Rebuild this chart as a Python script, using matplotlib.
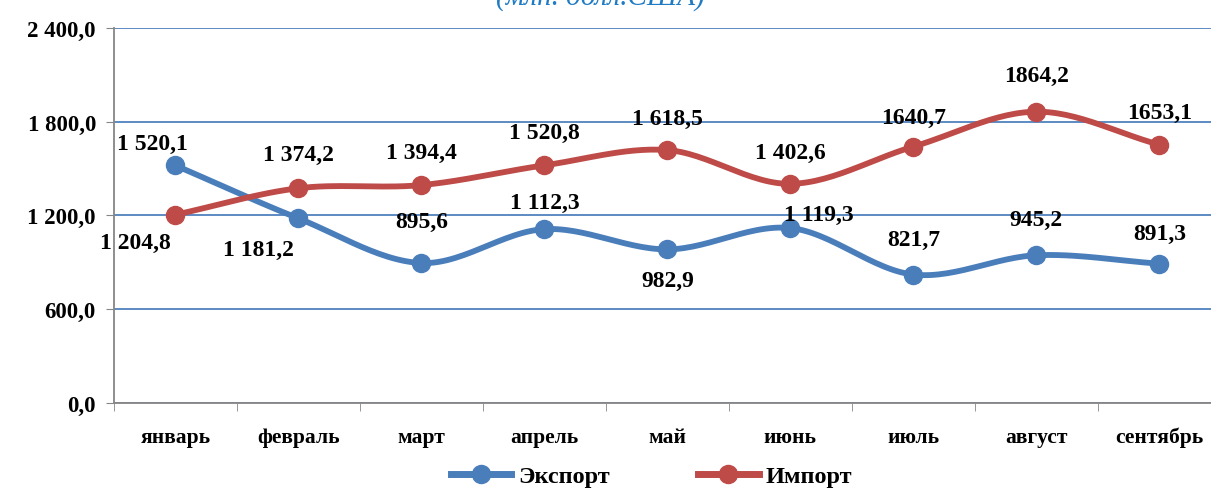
import numpy as np
import matplotlib
matplotlib.use("Agg")
import matplotlib.pyplot as plt

months = ["январь", "февраль", "март", "апрель", "май", "июнь", "июль", "август", "сентябрь"]
export = [1520.1, 1181.2, 895.6, 1112.3, 982.9, 1119.3, 821.7, 945.2, 891.3]
imports = [1204.8, 1374.2, 1394.4, 1520.8, 1618.5, 1402.6, 1640.7, 1864.2, 1653.1]
export_labels = ["1 520,1", "1 181,2", "895,6", "1 112,3", "982,9", "1 119,3", "821,7", "945,2", "891,3"]
import_labels = ["1 204,8", "1 374,2", "1 394,4", "1 520,8", "1 618,5", "1 402,6", "1640,7", "1864,2", "1653,1"]
yticks = [0, 600, 1200, 1800, 2400]
ytick_labels = ["0,0", "600,0", "1 200,0", "1 800,0", "2 400,0"]

# label offsets in pixels (dx, dy) relative to the point
export_off = [(-23, 22), (-40, -31), (0, 42), (0, 27), (0, -31), (28, 14), (0, 35), (0, 36), (0, 30)]
import_off = [(-40, -28), (0, 34), (0, 33), (0, 33), (0, 32), (0, 31), (0, 29), (0, 36), (0, 32)]

BLUE = "#4A7EBB"
RED = "#BE4B48"


def smooth(x, y, n=30):
    # catmull-rom curve through the points (like excel "smoothed line")
    x = np.asarray(x, float)
    y = np.asarray(y, float)
    px = np.concatenate([[2 * x[0] - x[1]], x, [2 * x[-1] - x[-2]]])
    py = np.concatenate([[2 * y[0] - y[1]], y, [2 * y[-1] - y[-2]]])
    xs, ys = [], []
    t = np.linspace(0, 1, n)
    for i in range(1, len(px) - 2):
        for p, out in ((px, xs), (py, ys)):
            p0, p1, p2, p3 = p[i - 1], p[i], p[i + 1], p[i + 2]
            out.extend(0.5 * ((2 * p1) + (-p0 + p2) * t + (2 * p0 - 5 * p1 + 4 * p2 - p3) * t ** 2
                              + (-p0 + 3 * p1 - 3 * p2 + p3) * t ** 3))
    return np.array(xs), np.array(ys)


plt.rcParams["font.family"] = ["Liberation Serif", "DejaVu Serif"]
plt.rcParams["font.weight"] = "bold"

fig = plt.figure(figsize=(12.11, 4.89), dpi=100)
ax = fig.add_axes([0.0941, 0.174, 0.914, 0.7667])

x = np.arange(len(months))
for vals, labels, offs, col, name in ((export, export_labels, export_off, BLUE, "Экспорт"),
                                      (imports, import_labels, import_off, RED, "Импорт")):
    sx, sy = smooth(x, vals)
    ax.plot(sx, sy, color=col, lw=4.2, solid_capstyle="round", zorder=3)
    ax.plot(x, vals, "o", color=col, ms=13, zorder=4)
    ax.plot([], [], "-o", color=col, lw=5, ms=13, label=name)
    for xi, v, lab, (dx, dy) in zip(x, vals, labels, offs):
        ax.annotate(lab, (xi, v), xytext=(dx, dy), textcoords="offset pixels",
                    ha="center", va="center", fontsize=17, fontweight="bold", zorder=5)

ax.set_xlim(-0.5, len(months) - 0.5)
ax.set_ylim(0, 2400)
ax.set_yticks(yticks)
ax.set_yticklabels(ytick_labels)
ax.set_xticks(x)
ax.set_xticklabels(months)
ax.set_xticks(np.arange(-0.5, len(months), 1), minor=True)
ax.tick_params(axis="x", which="major", length=0, pad=17, labelsize=15.5)
ax.tick_params(axis="x", which="minor", length=6, color="#868686", direction="out")
ax.tick_params(axis="y", length=6, color="#868686", labelsize=16.5, pad=7)

ax.grid(axis="y", color="#4F81BD", lw=1.3)
ax.set_axisbelow(True)
for s in ("top", "right"):
    ax.spines[s].set_visible(False)
for s in ("left", "bottom"):
    ax.spines[s].set_color("#868686")
    ax.spines[s].set_linewidth(1.3)

# title sits mostly above the visible area, as in the original crop
fig.text(0.496, 1 - 6 / 489, "(млн. долл.США)", ha="center", va="baseline",
         fontsize=21, style="italic", fontweight="normal", color="#1F7BC4")

fig.legend(loc="center", bbox_to_anchor=(0.538, 0.0245), ncol=2, frameon=False,
           handlelength=2.5, columnspacing=3.6, handletextpad=0.3,
           prop={"weight": "bold", "size": 17.5})

fig.savefig("out.png", dpi=100)
